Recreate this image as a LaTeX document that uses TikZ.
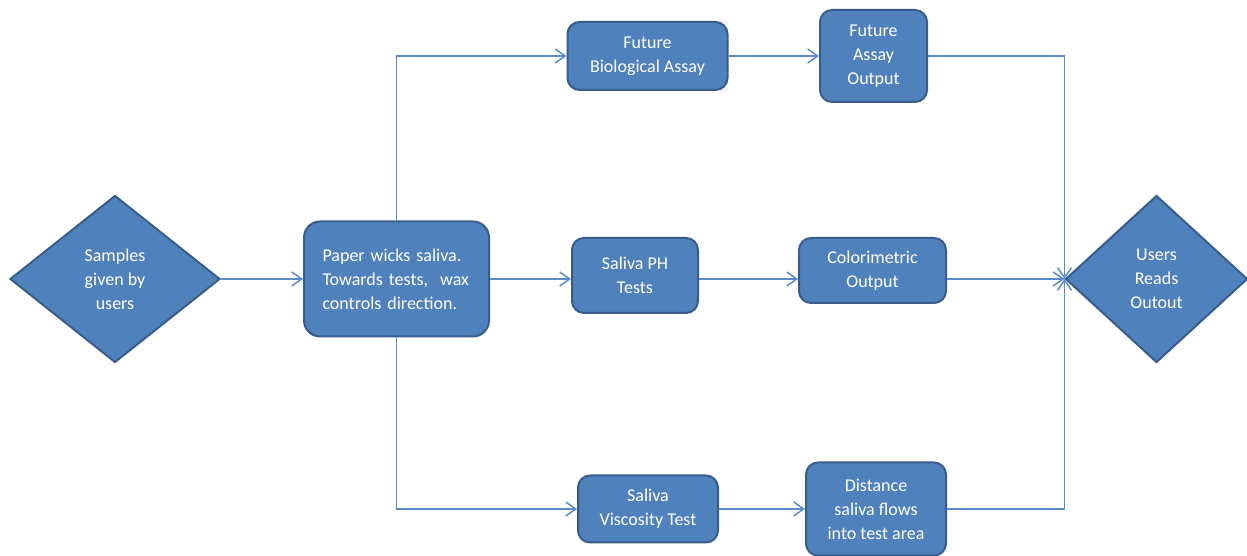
\documentclass[tikz,border=0pt]{standalone}
\usepackage{fontspec}
\setmainfont{Carlito}
\usetikzlibrary{shapes.geometric, arrows.meta}

\definecolor{boxfill}{HTML}{4F81BD}
\definecolor{boxline}{HTML}{385D8A}
\definecolor{flowline}{HTML}{5B8BC9}

\begin{document}
\begin{tikzpicture}
[
	x=0.5pt, y=0.5pt,
	stage/.style={draw=boxline, fill=boxfill, line width=1pt, rectangle, rounded corners=6pt, inner sep=0pt, text=white, align=center, font=\fontsize{9pt}{12pt}\selectfont},
	decision/.style={stage, diamond, rounded corners=0pt, minimum width=105pt, minimum height=83.5pt},
	flow/.style={draw=flowline, line width=0.75pt, -{Straight Barb[length=5pt,width=7pt]}}
  ]
	\useasboundingbox (0,0) rectangle (1247,556);

	\node[decision] (Samples) at (115,277) {Samples\\given by\\users};
	\node[stage, minimum width=92.5pt, minimum height=57.5pt, rounded corners=8pt, text width=74pt, align=left] (Paper) at (396.5,277) {Paper wicks saliva.\\Towards tests,\ \ wax\\controls direction.};

	\node[stage, minimum width=80pt, minimum height=34pt] (FutBio) at (647.5,500) {Future\\Biological Assay};
	\node[stage, minimum width=53.5pt, minimum height=46pt] (FutOut) at (873.5,500) {Future\\Assay\\Output};

	\node[stage, minimum width=63pt, minimum height=37.5pt] (PH) at (635,280.5) {Saliva PH\\Tests};
	\node[stage, minimum width=73.5pt, minimum height=32.5pt] (Color) at (872.5,285.5) {Colorimetric\\Output};

	\node[stage, minimum width=70pt, minimum height=33.5pt] (Visc) at (648,47) {Saliva\\Viscosity Test};
	\node[stage, minimum width=70pt, minimum height=46.5pt] (Dist) at (876,47) {Distance\\saliva flows\\into test area};

	\node[decision, minimum width=91pt] (Users) at (1156.5,277) {Users\\Reads\\Outout};

	\draw[flow] (Samples) -- (Paper);
	\draw[flow] (Paper.north) |- (FutBio.west);
	\draw[flow] (Paper.east) -- (Paper.east -| PH.west);
	\draw[flow] (Paper.south) |- (Visc.west);

	\draw[flow] (FutBio) -- (FutOut);
	\draw[flow] (Paper.east -| PH.east) -- (Paper.east -| Color.west);
	\draw[flow] (Visc) -- (Dist);

	\draw[flow] (FutOut.east) -| (Users.west);
	\draw[flow] (Paper.east -| Color.east) -- (Users.west);
	\draw[flow] (Dist.east) -| (Users.west);
\end{tikzpicture}
\end{document}
